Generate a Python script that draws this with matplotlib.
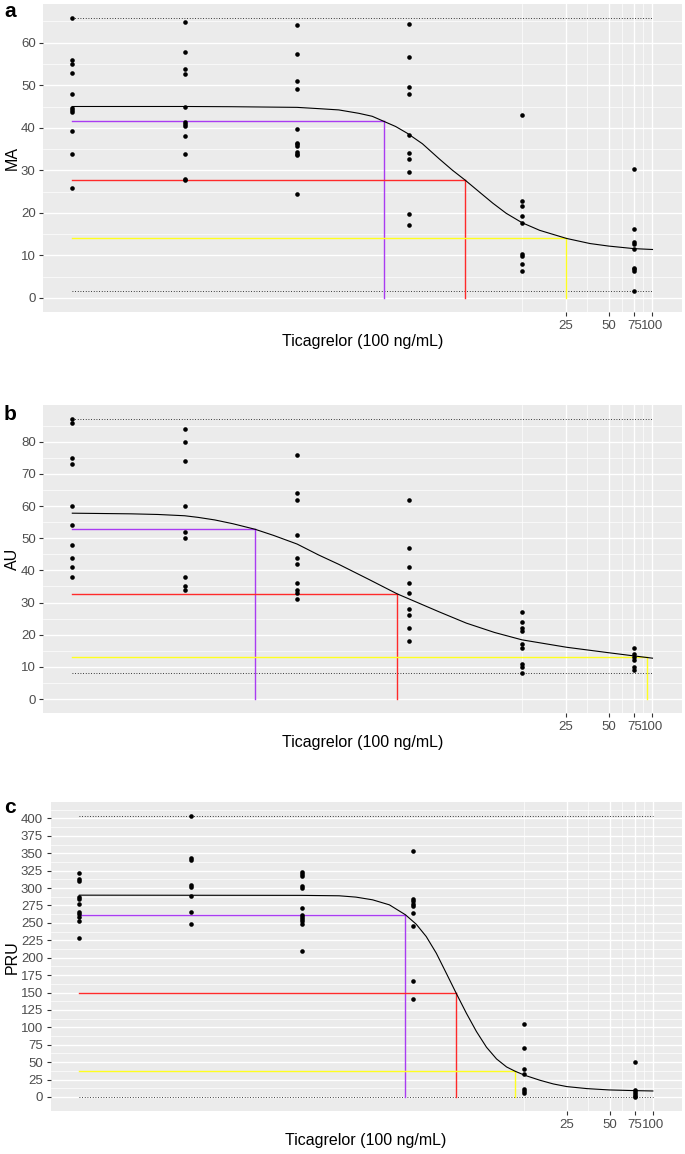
import numpy as np
import matplotlib
matplotlib.use('Agg')
import matplotlib.pyplot as plt
from matplotlib.ticker import NullLocator

plt.rcParams['font.family'] = ['Liberation Sans', 'DejaVu Sans']

W, H = 685, 1154

# Ticagrelor concentrations (six-fold dilutions), same for all panels
conc = [0.00965, 0.0579, 0.347, 2.08, 12.5, 75]

# panel a : MA
ma_points = [
    [65.8, 55.9, 55.0, 52.8, 47.9, 44.7, 44.1, 43.6, 39.2, 33.8, 25.9],
    [64.8, 57.8, 53.9, 52.7, 44.8, 41.4, 40.9, 40.5, 38.1, 33.8, 28.0, 27.7],
    [64.1, 57.3, 50.9, 49.1, 39.8, 36.5, 36.1, 35.8, 34.2, 33.8, 33.5, 24.4],
    [64.4, 56.7, 49.5, 48.0, 38.4, 34.1, 32.7, 29.6, 19.7, 17.1],
    [43.0, 22.7, 21.6, 19.2, 17.7, 10.3, 9.9, 8.0, 6.3],
    [30.2, 16.1, 13.1, 12.7, 11.6, 7.1, 6.7, 6.3, 1.7],
]
# fitted curve
ma_curve_x = [0.00965, 0.0579, 0.122, 0.347, 0.489, 0.674, 0.928, 1.149, 1.385, 1.669,
              2.0, 2.556, 3.341, 4.134, 5.008, 6.34, 7.84, 9.72, 12.5, 16.57,
              25.4, 36.9, 49.8, 74.6, 100]
ma_curve_y = [45.0, 45.0, 44.95, 44.8, 44.5, 44.2, 43.4, 42.7, 41.5, 40.3,
              38.75, 36.25, 32.7, 30.0, 27.8, 24.9, 22.3, 19.9, 17.7, 15.9,
              14.0, 12.8, 12.2, 11.6, 11.4]
ma_ic_x = [1.39, 5.0, 25.4]
ma_ic_y = [41.5, 27.8, 14.0]
ma_dotted = [1.7, 65.8]

# panel b : AU
au_points = [
    [87, 86, 75, 73, 60, 54, 48, 44, 41, 38],
    [84, 80, 74, 60, 52, 50, 38, 35, 34],
    [76, 64, 62, 51, 44, 42, 36, 34, 33, 31],
    [62, 47, 41, 36, 33, 28, 26, 22, 18],
    [27, 24, 22, 21, 17, 16, 11, 10, 8],
    [16, 14, 13, 12, 10, 9],
]
au_curve_x = [0.00965, 0.0246, 0.0378, 0.0579, 0.0716, 0.0935, 0.1253, 0.1775, 0.2381, 0.347,
              0.489, 0.6735, 1.089, 1.71, 2.0, 3.341, 5.15, 8.06, 12.5, 25.4,
              49.6, 74.6, 100]
au_curve_y = [57.8, 57.6, 57.4, 57.0, 56.5, 55.7, 54.5, 52.8, 50.9, 48.2,
              44.8, 41.9, 37.2, 32.7, 31.4, 27.1, 23.6, 20.7, 18.4, 16.1,
              14.4, 13.4, 12.7]
au_ic_x = [0.177, 1.71, 90.9]
au_ic_y = [52.8, 32.8, 13.0]
au_dotted = [8.0, 87.1]

# panel c : PRU
pru_points = [
    [322, 313, 310, 287, 284, 277, 266, 263, 259, 253, 228],
    [403, 343, 341, 304, 302, 289, 266, 249],
    [323, 320, 317, 303, 300, 272, 262, 258, 255, 252, 249, 209],
    [353, 285, 281, 277, 274, 264, 246, 166, 140],
    [105, 70, 40, 33, 11, 8, 5],
    [50, 10, 7, 4, 1, 0],
]
pru_curve_x = [0.00965, 0.347, 0.636, 0.834, 1.091, 1.43, 1.853, 2.204, 2.59, 3.046,
               3.58, 4.21, 4.95, 5.822, 6.845, 8.048, 9.462, 10.87, 12.7, 16.2,
               20.1, 25, 34.6, 49.4, 75.2, 100]
pru_curve_y = [289.8, 289.5, 288.9, 287.0, 283.1, 275.9, 261.6, 248.1, 230.4, 206.5,
               177.7, 148.5, 120.2, 93.9, 71.4, 54.6, 43.1, 36.9, 31.1, 24.0,
               18.7, 14.9, 12.0, 10.1, 9.1, 8.6]
pru_ic_x = [1.85, 4.21, 10.87]
pru_ic_y = [261.6, 148.8, 36.9]
pru_dotted = [0, 403]

x_major = [25, 50, 75, 100]
x_minor = [12.5, 35.36, 61.24, 86.6]
ic_colors = ['#A93CF2', '#FF2A2A', '#FFFF20']


def px_rect(left, top, right, bottom):
    return [left / W, 1 - bottom / H, (right - left) / W, (bottom - top) / H]


def draw_panel(fig, rect, letter, letter_y, ylabel, points, curve_x, curve_y,
               ic_x, ic_y, dotted, y_major, y_minor):
    ax = fig.add_axes(px_rect(*rect))
    ax.set_facecolor('#EBEBEB')
    for s in ax.spines.values():
        s.set_visible(False)
    ax.set_xscale('log')

    lo, hi = np.log10(conc[0]), np.log10(100)
    pad = 0.05 * (hi - lo)
    ax.set_xlim(10 ** (lo - pad), 10 ** (hi + pad))
    top = max(dotted)
    ax.set_ylim(-0.05 * top, 1.05 * top)

    # grid like ggplot
    for y in y_minor:
        ax.axhline(y, color='white', lw=0.5, zorder=0.5)
    for y in y_major:
        ax.axhline(y, color='white', lw=1.0, zorder=0.6)
    for x in x_minor:
        ax.axvline(x, color='white', lw=0.5, zorder=0.5)
    for x in x_major:
        ax.axvline(x, color='white', lw=1.0, zorder=0.6)

    ax.set_xticks(x_major)
    ax.set_xticklabels([str(v) for v in x_major])
    ax.xaxis.set_minor_locator(NullLocator())
    ax.set_yticks(y_major)
    ax.set_yticklabels([str(v) for v in y_major])
    ax.tick_params(length=3, width=0.8, color='#333333', labelcolor='#4D4D4D',
                   labelsize=9.5, pad=2.5)

    # plateau lines
    for y in dotted:
        ax.plot([conc[0], 100], [y, y], color='black', lw=0.6, ls=(0, (1, 2.2)), zorder=2)

    # IC10 / IC50 / IC90 guides
    for x, y, col in zip(ic_x, ic_y, ic_colors):
        ax.plot([conc[0], x], [y, y], color=col, lw=1.0, zorder=3)
        ax.plot([x, x], [0, y], color=col, lw=1.0, zorder=3)

    ax.plot(curve_x, curve_y, color='black', lw=0.8, zorder=4, solid_joinstyle='round')

    for c, vals in zip(conc, points):
        ax.plot([c] * len(vals), vals, 'o', color='black', ms=3.3, mec='none', zorder=5)

    left, t, right, bottom = rect
    fig.text(4 / W, 1 - letter_y / H, letter, fontsize=15, fontweight='bold',
             ha='left', va='baseline')
    fig.text(12 / W, 1 - (t + bottom) / 2 / H, ylabel, rotation=90, fontsize=11.5,
             ha='center', va='center')
    fig.text((left + right) / 2 / W, 1 - (bottom + 30) / H, 'Ticagrelor (100 ng/mL)',
             fontsize=11.5, ha='center', va='center')
    return ax


fig = plt.figure(figsize=(W / 100, H / 100), dpi=100)

draw_panel(fig, (43.3, 4, 681.5, 312), 'a', 17, 'MA', ma_points, ma_curve_x, ma_curve_y,
           ma_ic_x, ma_ic_y, ma_dotted, list(range(0, 61, 10)), list(range(5, 66, 10)))
draw_panel(fig, (43.3, 405, 681.5, 713), 'b', 420, 'AU', au_points, au_curve_x, au_curve_y,
           au_ic_x, au_ic_y, au_dotted, list(range(0, 81, 10)), list(range(5, 86, 10)))
draw_panel(fig, (50.7, 802.3, 681.5, 1111), 'c', 813, 'PRU', pru_points, pru_curve_x, pru_curve_y,
           pru_ic_x, pru_ic_y, pru_dotted, list(range(0, 401, 25)),
           [12.5 + 25 * i for i in range(17)])

fig.savefig('out.png', dpi=100)
